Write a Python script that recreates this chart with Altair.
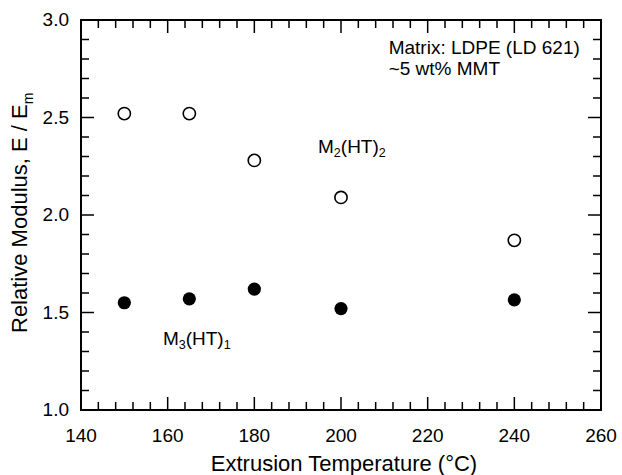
import altair as alt
import pandas as pd

# ---- data ----
temps = [150, 165, 180, 200, 240]
m2ht2 = [2.52, 2.52, 2.28, 2.09, 1.87]
m3ht1 = [1.55, 1.57, 1.62, 1.52, 1.565]

x_major = [140, 160, 180, 200, 220, 240, 260]
x_minor = [v for v in range(140, 261, 4) if v % 20 != 0]
y_major = [1.0, 1.5, 2.0, 2.5, 3.0]
y_minor = [round(1.0 + 0.1 * i, 1) for i in range(21) if i % 5 != 0]
x_labels = [str(v) for v in x_major]
y_labels = [f"{v:.1f}" for v in y_major]

x_title = "Extrusion Temperature (°C)"
y_title_main = "Relative Modulus, E / E"
y_title_sub = "m"

note_lines = ["Matrix: LDPE (LD 621)", "~5 wt% MMT"]
note_pos = (211.0, [2.826, 2.718])
label_m2 = ["M", "2", "(HT)", "2"]
label_m2_pos = (194.7, 2.318)
label_m3 = ["M", "3", "(HT)", "1"]
label_m3_pos = (158.9, 1.333)

FONT = "Liberation Sans"
W, H = 520, 390
MAJ, MIN = 13, 8

xs = alt.Scale(domain=[140, 260], nice=False, zero=False)
ys = alt.Scale(domain=[1.0, 3.0], nice=False, zero=False)

hidden_x = alt.Axis(labels=False, ticks=False, domain=False, grid=False, title="")
hidden_y = alt.Axis(labels=False, ticks=False, domain=False, grid=False, title="")


def X():
    return alt.X("T:Q", scale=xs, axis=None)


def Y():
    return alt.Y("E:Q", scale=ys, axis=None)


df_open = pd.DataFrame({"T": temps, "E": m2ht2})
df_fill = pd.DataFrame({"T": temps, "E": m3ht1})

open_pts = alt.Chart(df_open).mark_point(
    shape="circle", filled=False, size=150, strokeWidth=1.6, color="black", opacity=1
).encode(x=alt.X("T:Q", scale=xs, axis=hidden_x), y=alt.Y("E:Q", scale=ys, axis=hidden_y))

fill_pts = alt.Chart(df_fill).mark_point(
    shape="circle", filled=True, size=175, color="black", opacity=1
).encode(x=X(), y=Y())

layers = [open_pts, fill_pts]


def xticks(vals, length):
    d = pd.DataFrame({"T": vals})
    base = alt.Chart(d).mark_rule(color="black", strokeWidth=1.5)
    return [
        base.encode(x=X(), y=alt.value(H), y2=alt.value(H - length)),
        base.encode(x=X(), y=alt.value(0), y2=alt.value(length)),
    ]


def yticks(vals, length):
    d = pd.DataFrame({"E": vals})
    base = alt.Chart(d).mark_rule(color="black", strokeWidth=1.5)
    return [
        base.encode(y=Y(), x=alt.value(0), x2=alt.value(length)),
        base.encode(y=Y(), x=alt.value(W), x2=alt.value(W - length)),
    ]


layers += xticks(x_major, MAJ) + xticks(x_minor, MIN) + yticks(y_major, MAJ) + yticks(y_minor, MIN)

# tick labels
df_xl = pd.DataFrame({"T": x_major, "lab": x_labels})
layers.append(
    alt.Chart(df_xl).mark_text(align="center", baseline="alphabetic", font=FONT,
                               fontSize=19, color="black")
    .encode(x=X(), y=alt.value(H + 32), text="lab:N")
)
df_yl = pd.DataFrame({"E": y_major, "lab": y_labels})
layers.append(
    alt.Chart(df_yl).mark_text(align="right", baseline="middle", font=FONT,
                               fontSize=19, color="black")
    .encode(y=Y(), x=alt.value(-12), text="lab:N")
)

# axis titles
d0 = pd.DataFrame({"a": [0]})
layers.append(
    alt.Chart(d0).mark_text(align="center", baseline="alphabetic", font=FONT,
                            fontSize=22, color="black", text=x_title)
    .encode(x=alt.value(W / 2 + 3), y=alt.value(H + 61))
)
main_len = 10.393 * 22
layers.append(
    alt.Chart(d0).mark_text(align="left", baseline="alphabetic", angle=270, font=FONT,
                            fontSize=22, color="black", text=y_title_main)
    .encode(x=alt.value(-54), y=alt.value(313))
)
layers.append(
    alt.Chart(d0).mark_text(align="left", baseline="alphabetic", angle=270, font=FONT,
                            fontSize=14, color="black", text=y_title_sub, dx=main_len, dy=6)
    .encode(x=alt.value(-54), y=alt.value(313))
)

# note text
df_note = pd.DataFrame({"T": [note_pos[0]] * 2, "E": note_pos[1], "txt": note_lines})
layers.append(
    alt.Chart(df_note).mark_text(align="left", baseline="alphabetic", font=FONT,
                                 fontSize=19, color="black")
    .encode(x=X(), y=Y(), text="txt:N")
)


def sub_label(pieces, pos):
    main, sub = 19, 12.5
    w_m = 0.833 * main
    w_s = 0.556 * sub
    w_ht = (0.333 + 0.722 + 0.611 + 0.333) * main
    offs = [0, w_m, w_m + w_s, w_m + w_s + w_ht]
    sizes = [main, sub, main, sub]
    dys = [0, 4, 0, 4]
    d = pd.DataFrame({"T": [pos[0]], "E": [pos[1]]})
    out = []
    for p, o, s, dy in zip(pieces, offs, sizes, dys):
        out.append(
            alt.Chart(d).mark_text(align="left", baseline="alphabetic", font=FONT,
                                   fontSize=s, dx=o, dy=dy, color="black", text=p)
            .encode(x=X(), y=Y())
        )
    return out


layers += sub_label(label_m2, label_m2_pos) + sub_label(label_m3, label_m3_pos)

chart = alt.layer(*layers).properties(
    width=W, height=H,
    autosize=alt.AutoSizeParams(type="none"),
    padding={"left": 81, "top": 20, "right": 21, "bottom": 65},
    background="white",
).configure_view(stroke="black", strokeWidth=2)

chart.save("out.html", embed_options={"renderer": "svg", "actions": False})
